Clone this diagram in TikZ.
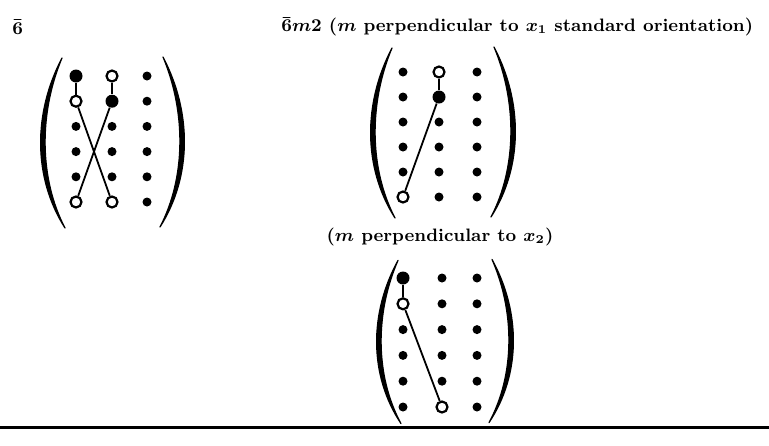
\documentclass[tikz,border=0pt]{standalone}
\usetikzlibrary{positioning}
\tikzset{
  dot/.style={circle,fill=black,inner sep=0pt,minimum size=4.5pt},
  bigdot/.style={circle,fill=black,inner sep=0pt,minimum size=6.5pt},
  opendot/.style={circle,draw=black,fill=white,line width=1.1pt,inner sep=0pt,minimum size=5.5pt},
  link/.style={line width=0.9pt},
  lbl/.style={font=\fontsize{9}{11}\selectfont\bfseries\boldmath,inner sep=0pt},
  paren/.pic={\fill[draw,line width=0.6pt,line join=round]
    (22,-85) .. controls (-7,-30) and (-7,35) .. (25,85)
    .. controls (-1,35) and (-1,-30) .. (22,-85) -- cycle;}
}
\begin{document}
\begin{tikzpicture}[x=0.5pt,y=-0.5pt]
  \useasboundingbox (0,0) rectangle (769,445);
  % labels
  \node[lbl,anchor=west] (symA) at (12,27) {$\bar 6$};
  \node[lbl,anchor=west] (symB) at (281,27)
    {$\bar 6m2$ ($m$ perpendicular to $x_1$ standard orientation)};
  \node[lbl] (symC) at (440,237) {($m$ perpendicular to $x_2$)};

  % left matrix
  \pic at (40,143) {paren};
  \pic[xscale=-1] at (185,142) {paren};
  \foreach \c/\x in {1/76,2/112,3/147}
    \foreach \r in {1,...,6}
      \node[dot] (a\c\r) at (\x,{76+25.2*(\r-1)}) {};
  \node[bigdot]  (A11) at (a11) {};
  \node[opendot] (A12) at (a12) {};
  \node[opendot] (A21) at (a21) {};
  \node[bigdot]  (A22) at (a22) {};
  \node[opendot] (A16) at (a16) {};
  \node[opendot] (A26) at (a26) {};
  \draw[link] (A11) -- (A12);
  \draw[link] (A21) -- (A22);
  \draw[link] (A12) -- (A26);
  \draw[link] (A22) -- (A16);

  % middle matrix, m perpendicular to x1
  \pic at (370,133) {paren};
  \pic[xscale=-1] at (516,132) {paren};
  \foreach \c/\x in {1/403,2/439,3/477}
    \foreach \r in {1,...,6}
      \node[dot] (b\c\r) at (\x,{72+25*(\r-1)}) {};
  \node[opendot] (B21) at (b21) {};
  \node[bigdot]  (B22) at (b22) {};
  \node[opendot] (B16) at (b16) {};
  \draw[link] (B21) -- (B22);
  \draw[link] (B22) -- (B16);

  % lower matrix, m perpendicular to x2
  \pic[yscale=0.96] at (376,342) {paren};
  \pic[xscale=-1,yscale=0.96] at (514,341) {paren};
  \foreach \c/\x in {1/403,2/442,3/477}
    \foreach \r in {1,...,6}
      \node[dot] (c\c\r) at (\x,{278+25.8*(\r-1)}) {};
  \node[bigdot]  (C11) at (c11) {};
  \node[opendot] (C12) at (c12) {};
  \node[opendot] (C26) at (c26) {};
  \draw[link] (C11) -- (C12);
  \draw[link] (C12) -- (C26);

  % rule
  \coordinate (ruleL) at (0,427);
  \coordinate (ruleR) at (769,427);
  \draw[line width=1.5pt] (ruleL) -- (ruleR);
\end{tikzpicture}
\end{document}
